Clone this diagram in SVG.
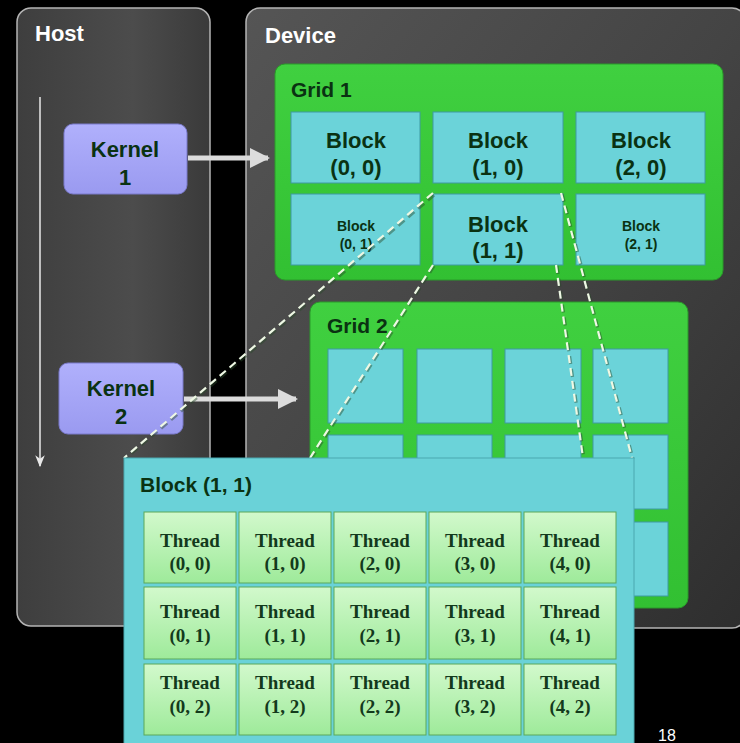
<svg xmlns="http://www.w3.org/2000/svg" width="740" height="743" viewBox="0 0 740 743">
<defs>
<linearGradient id="panelG" x1="0" y1="0" x2="1" y2="1">
<stop offset="0" stop-color="#555555"/><stop offset="0.5" stop-color="#444444"/><stop offset="1" stop-color="#2e2e2e"/>
</linearGradient>
<linearGradient id="hostG" x1="0" y1="0" x2="1" y2="0">
<stop offset="0" stop-color="#3e3e3e"/><stop offset="0.6" stop-color="#4c4c4c"/><stop offset="1" stop-color="#3a3a3a"/>
</linearGradient>
<linearGradient id="kernG" x1="0" y1="0" x2="0" y2="1">
<stop offset="0" stop-color="#b0b0fc"/><stop offset="1" stop-color="#9a9af0"/>
</linearGradient>
<linearGradient id="gridG" x1="0" y1="0" x2="0" y2="1">
<stop offset="0" stop-color="#40d040"/><stop offset="1" stop-color="#32c032"/>
</linearGradient>
<linearGradient id="thrG" x1="0" y1="0" x2="0" y2="1">
<stop offset="0" stop-color="#d2f9cc"/><stop offset="1" stop-color="#9eea9a"/>
</linearGradient>
<marker id="ah" viewBox="0 0 10 10" refX="9" refY="5" markerWidth="4" markerHeight="4" orient="auto" markerUnits="strokeWidth">
<path d="M0,0 L10,5 L0,10 z" fill="#dcdcdc"/>
</marker>
<marker id="ahs" viewBox="0 0 10 10" refX="9" refY="5" markerWidth="8" markerHeight="8" orient="auto" markerUnits="strokeWidth">
<path d="M0,1 L10,5 L0,9 L3,5 z" fill="#e8e8e8"/>
</marker>
</defs>
<style>
.title{font-family:"Liberation Sans",Arial,sans-serif;font-weight:bold;font-size:22px;fill:#ffffff}
.lbl{font-family:"Liberation Sans",Arial,sans-serif;font-weight:bold;fill:#0a3212}
.big{font-size:22px}
.small{font-size:14px}
.thr{font-family:"Liberation Serif","Times New Roman",serif;font-weight:bold;font-size:19px;fill:#133a1c}
.kern{fill:url(#kernG);stroke:#7b7bcc;stroke-width:1}
.blk{fill:#6bd3d9;stroke:#3f9aa2;stroke-width:1}
.cell{fill:url(#thrG);stroke:#5aa85a;stroke-width:1}
.panel{stroke:#b4b4b4;stroke-width:1.5}
.dash{fill:none;stroke:#eef8e4;stroke-width:2.2;stroke-dasharray:8 5}
.dashs{fill:none;stroke:#2a4a2a;stroke-width:3.2;stroke-dasharray:8 5;opacity:0.45}
.arr{fill:none;stroke:#dcdcdc;stroke-width:5}
</style>
<rect x="0" y="0" width="740" height="743" fill="#000000"/>

<g id="host">
<rect class="panel" x="17" y="8" width="193" height="618" rx="14" fill="url(#hostG)"/>
<text class="title" x="35" y="41">Host</text>
</g>
<g id="device">
<rect class="panel" x="246" y="8" width="500" height="620" rx="14" fill="url(#panelG)"/>
<text class="title" x="265" y="43">Device</text>
</g>

<g id="grid1">
<rect x="275" y="64" width="448" height="216" rx="10" fill="url(#gridG)" stroke="#2a9a2a" stroke-width="1"/>
<text class="lbl" x="291" y="97" font-size="21">Grid 1</text>
</g>
<g id="block00"><rect class="blk" x="291" y="112" width="129" height="71"/>
<text class="lbl big" text-anchor="middle" x="356" y="148">Block</text><text class="lbl big" text-anchor="middle" x="356" y="175">(0, 0)</text></g>
<g id="block10"><rect class="blk" x="433" y="112" width="130" height="71"/>
<text class="lbl big" text-anchor="middle" x="498" y="148">Block</text><text class="lbl big" text-anchor="middle" x="498" y="175">(1, 0)</text></g>
<g id="block20"><rect class="blk" x="576" y="112" width="129" height="71"/>
<text class="lbl big" text-anchor="middle" x="641" y="148">Block</text><text class="lbl big" text-anchor="middle" x="641" y="175">(2, 0)</text></g>
<g id="block01"><rect class="blk" x="291" y="194" width="129" height="71"/>
<text class="lbl small" text-anchor="middle" x="356" y="231">Block</text><text class="lbl small" text-anchor="middle" x="356" y="249">(0, 1)</text></g>
<g id="block11"><rect class="blk" x="433" y="194" width="130" height="71"/>
<text class="lbl big" text-anchor="middle" x="498" y="232">Block</text><text class="lbl big" text-anchor="middle" x="498" y="258">(1, 1)</text></g>
<g id="block21"><rect class="blk" x="576" y="194" width="129" height="71"/>
<text class="lbl small" text-anchor="middle" x="641" y="231">Block</text><text class="lbl small" text-anchor="middle" x="641" y="249">(2, 1)</text></g>

<g id="grid2">
<rect x="310" y="302" width="378" height="306" rx="10" fill="url(#gridG)" stroke="#2a9a2a" stroke-width="1"/>
<text class="lbl" x="327" y="333" font-size="21">Grid 2</text>
<rect class="blk" x="328" y="349" width="75" height="74"/>
<rect class="blk" x="417" y="349" width="75" height="74"/>
<rect class="blk" x="505" y="349" width="76" height="74"/>
<rect class="blk" x="593" y="349" width="75" height="74"/>
<rect class="blk" x="328" y="435" width="75" height="74"/>
<rect class="blk" x="417" y="435" width="75" height="74"/>
<rect class="blk" x="505" y="435" width="76" height="74"/>
<rect class="blk" x="593" y="435" width="75" height="74"/>
<rect class="blk" x="328" y="522" width="75" height="74"/>
<rect class="blk" x="417" y="522" width="75" height="74"/>
<rect class="blk" x="505" y="522" width="76" height="74"/>
<rect class="blk" x="593" y="522" width="75" height="74"/>
</g>

<g id="kernel1">
<rect class="kern" x="64" y="124" width="123" height="70" rx="9"/>
<text class="lbl" font-size="22" text-anchor="middle" x="125" y="157">Kernel</text>
<text class="lbl" font-size="22" text-anchor="middle" x="125" y="185">1</text>
</g>
<g id="kernel2">
<rect class="kern" x="59" y="363" width="124" height="71" rx="9"/>
<text class="lbl" font-size="22" text-anchor="middle" x="121" y="396">Kernel</text>
<text class="lbl" font-size="22" text-anchor="middle" x="121" y="424">2</text>
</g>

<g id="connectors">
<line x1="40" y1="97" x2="40" y2="466" stroke="#e8e8e8" stroke-width="1.5" marker-end="url(#ahs)"/>
<line class="arr" x1="188" y1="158" x2="268" y2="158" marker-end="url(#ah)"/>
<line class="arr" x1="184" y1="399" x2="296" y2="399" marker-end="url(#ah)"/>
<line class="dashs" x1="434" y1="195" x2="125" y2="459"/>
<line class="dash" x1="433" y1="193" x2="124" y2="458"/>
<line class="dashs" x1="434" y1="266" x2="311" y2="459"/>
<line class="dash" x1="433" y1="265" x2="310" y2="458"/>
<line class="dashs" x1="562" y1="194" x2="633" y2="459"/>
<line class="dash" x1="561" y1="193" x2="632" y2="458"/>
<line class="dashs" x1="557" y1="266" x2="584" y2="459"/>
<line class="dash" x1="556" y1="265" x2="583" y2="458"/>
</g>

<g id="block11-detail">
<rect x="124" y="458" width="510" height="300" fill="#6ad2d8" stroke="#4aa8b0" stroke-width="1"/>
<text class="lbl" x="140" y="492" font-size="21">Block (1, 1)</text>
</g>

<g id="threads">
<g id="t00"><rect class="cell" x="144" y="512" width="92" height="71"/><text class="thr" text-anchor="middle" x="190" y="547">Thread</text><text class="thr" text-anchor="middle" x="190" y="570">(0, 0)</text></g>
<g id="t10"><rect class="cell" x="239" y="512" width="92" height="71"/><text class="thr" text-anchor="middle" x="285" y="547">Thread</text><text class="thr" text-anchor="middle" x="285" y="570">(1, 0)</text></g>
<g id="t20"><rect class="cell" x="334" y="512" width="92" height="71"/><text class="thr" text-anchor="middle" x="380" y="547">Thread</text><text class="thr" text-anchor="middle" x="380" y="570">(2, 0)</text></g>
<g id="t30"><rect class="cell" x="429" y="512" width="92" height="71"/><text class="thr" text-anchor="middle" x="475" y="547">Thread</text><text class="thr" text-anchor="middle" x="475" y="570">(3, 0)</text></g>
<g id="t40"><rect class="cell" x="524" y="512" width="92" height="71"/><text class="thr" text-anchor="middle" x="570" y="547">Thread</text><text class="thr" text-anchor="middle" x="570" y="570">(4, 0)</text></g>
<g id="t01"><rect class="cell" x="144" y="587" width="92" height="72"/><text class="thr" text-anchor="middle" x="190" y="618">Thread</text><text class="thr" text-anchor="middle" x="190" y="642">(0, 1)</text></g>
<g id="t11"><rect class="cell" x="239" y="587" width="92" height="72"/><text class="thr" text-anchor="middle" x="285" y="618">Thread</text><text class="thr" text-anchor="middle" x="285" y="642">(1, 1)</text></g>
<g id="t21"><rect class="cell" x="334" y="587" width="92" height="72"/><text class="thr" text-anchor="middle" x="380" y="618">Thread</text><text class="thr" text-anchor="middle" x="380" y="642">(2, 1)</text></g>
<g id="t31"><rect class="cell" x="429" y="587" width="92" height="72"/><text class="thr" text-anchor="middle" x="475" y="618">Thread</text><text class="thr" text-anchor="middle" x="475" y="642">(3, 1)</text></g>
<g id="t41"><rect class="cell" x="524" y="587" width="92" height="72"/><text class="thr" text-anchor="middle" x="570" y="618">Thread</text><text class="thr" text-anchor="middle" x="570" y="642">(4, 1)</text></g>
<g id="t02"><rect class="cell" x="144" y="664" width="92" height="71"/><text class="thr" text-anchor="middle" x="190" y="689">Thread</text><text class="thr" text-anchor="middle" x="190" y="713">(0, 2)</text></g>
<g id="t12"><rect class="cell" x="239" y="664" width="92" height="71"/><text class="thr" text-anchor="middle" x="285" y="689">Thread</text><text class="thr" text-anchor="middle" x="285" y="713">(1, 2)</text></g>
<g id="t22"><rect class="cell" x="334" y="664" width="92" height="71"/><text class="thr" text-anchor="middle" x="380" y="689">Thread</text><text class="thr" text-anchor="middle" x="380" y="713">(2, 2)</text></g>
<g id="t32"><rect class="cell" x="429" y="664" width="92" height="71"/><text class="thr" text-anchor="middle" x="475" y="689">Thread</text><text class="thr" text-anchor="middle" x="475" y="713">(3, 2)</text></g>
<g id="t42"><rect class="cell" x="524" y="664" width="92" height="71"/><text class="thr" text-anchor="middle" x="570" y="689">Thread</text><text class="thr" text-anchor="middle" x="570" y="713">(4, 2)</text></g>
</g>

<text x="658" y="741" font-family="'Liberation Sans',Arial,sans-serif" font-size="16" fill="#ffffff">18</text>
</svg>
